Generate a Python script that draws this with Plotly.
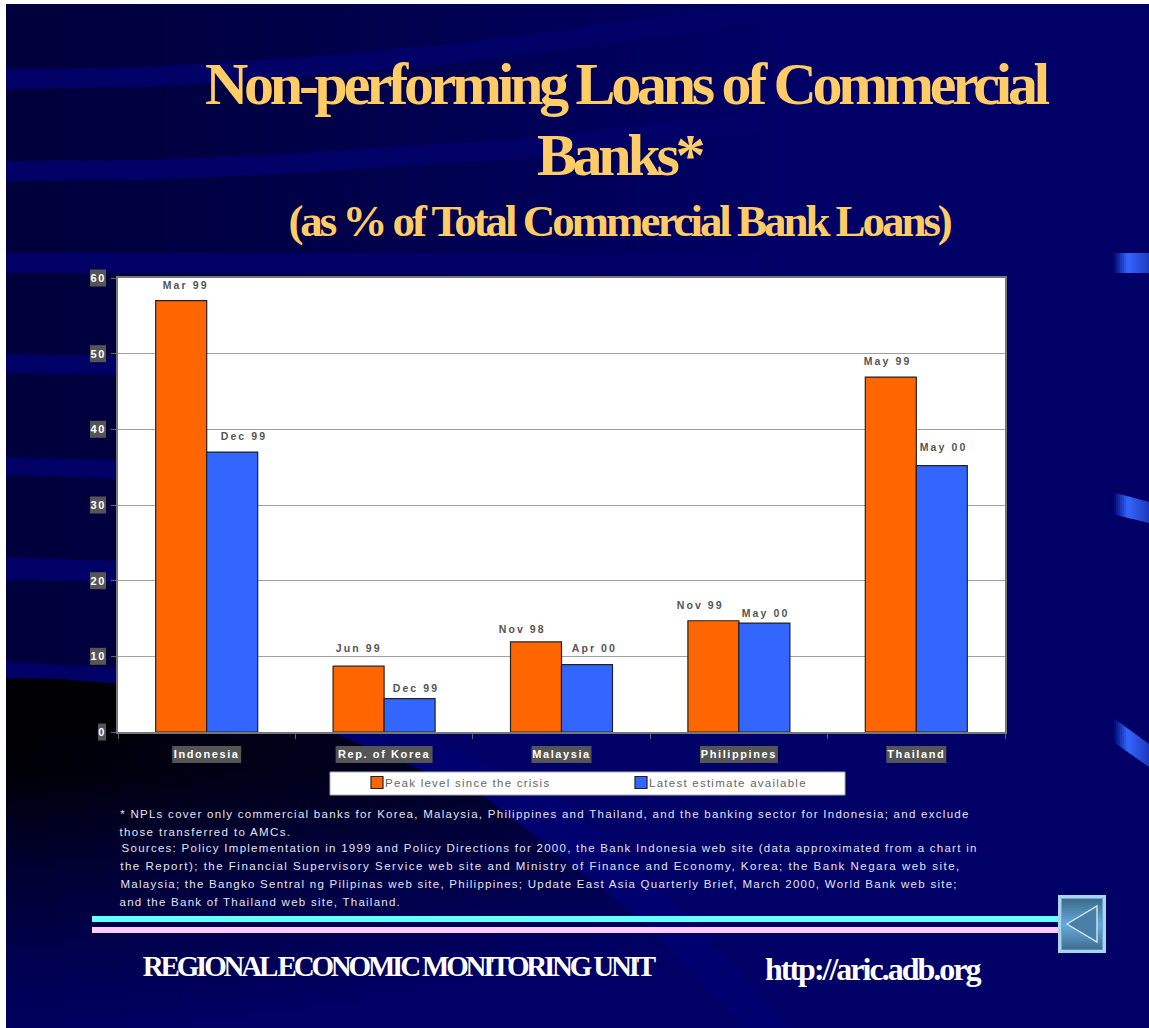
import numpy as np
import plotly.graph_objects as go

categories = ["Indonesia", "Rep. of Korea", "Malaysia", "Philippines", "Thailand"]
peak_name = "Peak level since the crisis"
latest_name = "Latest estimate available"
peak_values = [57.0, 8.7, 11.9, 14.7, 46.9]
latest_values = [37.0, 4.4, 8.9, 14.4, 35.2]
peak_dates = ["Mar 99", "Jun 99", "Nov 98", "Nov 99", "May 99"]
latest_dates = ["Dec 99", "Dec 99", "Apr 00", "May 00", "May 00"]
y_ticks = [0, 10, 20, 30, 40, 50, 60]

title_lines = ["Non-performing Loans of Commercial", "Banks*", "(as % of Total Commercial Bank Loans)"]
note_lines = [
    "* NPLs cover only commercial banks for Korea, Malaysia, Philippines and Thailand, and the banking sector for Indonesia; and exclude",
    "those transferred to AMCs.",
    "Sources: Policy Implementation in 1999 and Policy Directions for 2000, the Bank Indonesia web site (data approximated from a chart in",
    "the Report); the Financial Supervisory Service web site and Ministry of Finance and Economy, Korea; the Bank Negara web site,",
    "Malaysia; the Bangko Sentral ng Pilipinas web site, Philippines; Update East Asia Quarterly Brief, March 2000, World Bank web site;",
    "and the Bank of Thailand web site, Thailand.",
]
footer_left = "REGIONAL ECONOMIC MONITORING UNIT"
footer_right = "http://aric.adb.org"

W, H = 1149, 1028
L, R, T, B = 118, 1005, 278, 732
SANS = "Liberation Sans"
SERIF = "Liberation Serif"

# label placement, kept apart from the values
peak_xshift = [4, 0, -14, -13, -3]
peak_yshift = [8, 10, 5, 8, 8]
latest_xshift = [12, 6, 7, 1, 2]
latest_yshift = [8, 3, 9, 2, 11]
note_y = [814, 832, 848, 866, 884, 902]
note_r = [969, 290, 978, 961, 958, 401]
note_spacing = [1.28, 1.35, 1.27, 1.5, 1.26, 1.25]


def X(px):
    return (px - L) / (R - L)


def Y(py):
    return (B - py) / (B - T)


shapes = []
annotations = []
css = []


def poly(points, fill, line=None, lw=0, layer="below"):
    d = "M" + "L".join(f"{X(a):.5f},{Y(b):.5f}" for a, b in points) + "Z"
    shapes.append(dict(type="path", path=d, xref="paper", yref="paper", fillcolor=fill, layer=layer,
                       line=dict(width=lw, color=line or fill)))


def rect(x0, y0, x1, y1, fill, line=None, lw=0, layer="below"):
    shapes.append(dict(type="rect", xref="paper", yref="paper", x0=X(x0), x1=X(x1), y0=Y(y0), y1=Y(y1),
                       fillcolor=fill, layer=layer, line=dict(width=lw, color=line or fill)))


def rgb(b, r=0, g=0):
    return f"rgb({int(r)},{int(g)},{int(b)})"


# slide backdrop
BASE = "#000066"
rect(6, 4, W, H, BASE)
for x0 in np.arange(6, 760, 16):
    rect(x0, 4, x0 + 17, 700, rgb(np.interp(x0, [6, 300, 760], [60, 72, 102])))
bands = [
    [(6, 69, 89), (150, 67, 87), (300, 57, 77), (450, 44, 64), (760, 4, 24)],
    [(6, 161, 181), (150, 160, 180), (300, 153, 173), (500, 140, 160), (760, 112, 132)],
    [(6, 253, 273), (760, 253, 273)],
    [(6, 354, 373), (118, 356, 375), (760, 356, 375)],
    [(6, 457, 475), (118, 460, 479), (760, 470, 489)],
    [(6, 557, 580), (118, 561, 582), (760, 580, 601)],
    [(6, 662, 678), (118, 668, 684), (400, 690, 710)],
]
for band in bands:
    poly([(a, b) for a, b, _ in band] + [(a, c) for a, _, c in reversed(band)], BASE)

# dark lower-left sweep, fading towards its diagonal edge and towards the bottom
edge_y = [732, 797, 917, 1028]
edge_x = [332, 485, 638, 745]
poly([(6, 678), (60, 679), (118, 684), (215, 700), (300, 732), (332, 732), (6, 732)], "#000004")
for y0 in np.arange(732, H, 8):
    y1 = min(y0 + 9, H)
    e0, e1 = np.interp(y0, edge_y, edge_x), np.interp(y1, edge_y, edge_x)
    base = np.interp(y0, [732, 770, 840, 940, 1028], [4, 8, 40, 74, 96])
    steps = 12
    for k in range(steps):
        a, b = k / steps, min((k + 1.1) / steps, 1)
        blue = min(base + 28 * a, 102)
        poly([(6 + (e0 - 6) * a, y0), (6 + (e0 - 6) * b, y0), (6 + (e1 - 6) * b, y1), (6 + (e1 - 6) * a, y1)], rgb(blue))
poly([(332, 732), (420, 732), (560, 797), (690, 917), (790, 1028), (745, 1028), (638, 917), (485, 797)], "#00006f")

# glossy marks on the right edge
ribbons = [(253, 273, 253, 273), (492, 514, 502, 523), (717, 741, 744, 767)]
for a0, a1, b0, b1 in ribbons:
    xs = np.arange(1112, W, 2)
    for x0 in xs:
        t = (x0 - 1112) / 37
        mix = min(t / 0.4, 1) if t < 0.4 else 1 - 0.45 * (t - 0.4) / 0.6
        col = f"rgb({int(51*mix)},{int(102*mix)},{int(102+153*mix)})"
        x1 = min(x0 + 2.5, W)
        t1 = (x1 - 1112) / 37
        poly([(x0, a0 + (b0 - a0) * t), (x1, a0 + (b0 - a0) * t1), (x1, a1 + (b1 - a1) * t1), (x0, a1 + (b1 - a1) * t)], col)

# white plot panel above the backdrop
rect(L, T, R, B, "#FFFFFF")

# rules under the notes
rect(92, 916, 1058, 922, "#66FFFF")
rect(92, 927, 1058, 933, "#FFCCFF")

# back button
rect(1058, 895, 1106, 953, "#A8D4EE")
rect(1061, 898, 1103, 950, "#6FA8CC")
for y0 in np.arange(899, 949, 2):
    t = abs(y0 - 924) / 25
    rect(1062, y0, 1102, y0 + 2.5, f"rgb({int(104-42*t)},{int(170-60*t)},{int(222-80*t)})")
poly([(1067, 924), (1097, 906), (1097, 942)], "#4A7FA8", "#D8ECFA", 1.3)

# grey plates behind the tick labels
label_widths = [69, 97, 60, 78, 60]
for i, w in enumerate(label_widths):
    c = L + (i + 0.5) * (R - L) / len(categories)
    rect(c - w / 2, 746, c + w / 2, 763, "#555555")
for v in y_ticks:
    py = B - v * (B - T) / 60
    rect(98 if v == 0 else 90, py - 8.5, 106, py + 8.5, "#555555")

# legend plate
rect(330, 772, 845, 795, "#FFFFFF", "#AAAAAA", 1)


def note(text, cx, py, size, color, family=SANS, bold=False, spacing=0):
    annotations.append(dict(text=text, xref="paper", yref="paper", x=X(cx), y=Y(py), xanchor="center",
                            yanchor="middle", showarrow=False,
                            font=dict(family=family, size=size, color=color, weight="bold" if bold else "normal")))
    css.append(f'.annotation[data-index="{len(annotations)-1}"] text{{letter-spacing:{spacing}px}}')


# date labels over the bars
for i, cat in enumerate(categories):
    for val, txt, shift, up in ((peak_values[i], peak_dates[i], -25.5 + peak_xshift[i], peak_yshift[i]),
                                (latest_values[i], latest_dates[i], 25.5 + latest_xshift[i], latest_yshift[i])):
        annotations.append(dict(text=txt, xref="x", yref="y", x=cat, y=val, xshift=shift, yshift=up,
                                xanchor="center", yanchor="bottom", showarrow=False,
                                font=dict(family=SANS, size=10.5, color="#555555", weight="bold")))
        css.append(f'.annotation[data-index="{len(annotations)-1}"] text{{letter-spacing:2.1px}}')

note(title_lines[0], 625, 84, 60, "#FFCC66", SERIF, True, -4.3)
note(title_lines[1], 619, 155, 60, "#FFCC66", SERIF, True, -4.3)
note(title_lines[2], 619, 221, 45, "#FFCC66", SERIF, True, -3.05)
for line, py, r, sp in zip(note_lines, note_y, note_r, note_spacing):
    note(line, (120 + r) / 2, py, 11.5, "#E4E4EE", spacing=sp)
note(footer_left, 398, 966, 29, "#FFFFFF", SERIF, True, -3.2)
note(footer_right, 872, 969, 32, "#FFFFFF", SERIF, True, -2)

fig = go.Figure()
fig.add_bar(name=peak_name, x=categories, y=peak_values, marker=dict(color="#FF6600", line=dict(color="#222222", width=1.2)))
fig.add_bar(name=latest_name, x=categories, y=latest_values, marker=dict(color="#3366FF", line=dict(color="#222222", width=1.2)))

fig.update_layout(
    width=W, height=H, autosize=False,
    margin=dict(l=L, r=W - R, t=T, b=H - B, pad=0),
    paper_bgcolor="#FFFFFF", plot_bgcolor="#FFFFFF",
    barmode="group", bargap=0.425, bargroupgap=0,
    shapes=shapes, annotations=annotations,
    hovermode=False,
    legend=dict(orientation="h", x=X(357), xanchor="left", y=Y(768), yanchor="top",
                bgcolor="rgba(0,0,0,0)", entrywidth=219, entrywidthmode="pixels", traceorder="normal",
                font=dict(family=SANS, size=11.5, color="#666666")),
    xaxis=dict(type="category", categoryorder="array", categoryarray=categories, range=[-0.5, 4.5],
               tickson="boundaries", ticks="outside", ticklen=5, tickcolor="#666666", tickwidth=1,
               showgrid=False, showline=True, linecolor="#777777", linewidth=1.5, mirror=True, zeroline=False,
               ticklabelstandoff=11,
               tickfont=dict(family=SANS, size=11, color="#FFFFFF", weight="bold")),
    yaxis=dict(range=[0, 60], tickmode="array", tickvals=y_ticks, ticks="outside", ticklen=5,
               tickcolor="#666666", tickwidth=1, showgrid=True, gridcolor="#A0A0A0", gridwidth=1,
               showline=True, linecolor="#777777", linewidth=1.5, mirror=True, zeroline=False,
               ticklabelstandoff=3,
               tickfont=dict(family=SANS, size=11, color="#FFFFFF", weight="bold")),
)

style = "".join(css) + (
    "body{margin:0;overflow:hidden}"
    ".xtick text,.ytick text{letter-spacing:1.6px}"
    ".legendtext{letter-spacing:1.25px}"
)
post = (
    "var s=document.createElement('style');s.textContent=" + repr(style) + ";document.head.appendChild(s);"
    "document.querySelectorAll('.legendtext').forEach(function(t){t.setAttribute('x',28);});"
)
fig.write_html("out.html", post_script=post, config={"displayModeBar": False})
